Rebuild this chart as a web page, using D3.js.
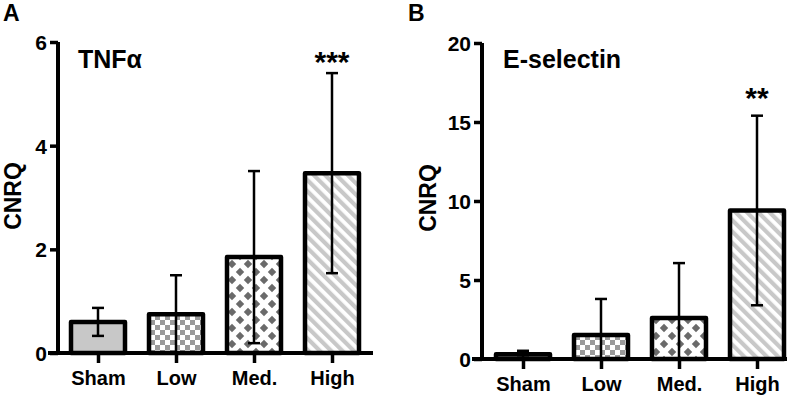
<!DOCTYPE html>
<html><head><meta charset="utf-8">
<script src="https://cdn.jsdelivr.net/npm/d3@7"></script>
<style>body{margin:0;background:#fff}svg{display:block}text{font-family:"Liberation Sans",Arial,sans-serif;font-weight:bold;fill:#000}</style>
</head><body><svg id="c" width="800" height="400"></svg>
<script>
const categories = ["Sham", "Low", "Med.", "High"];
const tnfValues = [0.6, 0.75, 1.85, 3.47];
const tnfErrors = [0.27, 0.75, 1.66, 1.93];
const tnfTicks = [0, 2, 4, 6];
const eselValues = [0.3, 1.52, 2.6, 9.4];
const eselErrors = [0.22, 2.28, 3.47, 6.0];
const eselTicks = [0, 5, 10, 15, 20];
const patterns = ["solid", "checker", "diamond", "stripe"];

const svg = d3.select("#c");
const defs = svg.append("defs");
const pc = defs.append("pattern").attr("id","checker").attr("patternUnits","userSpaceOnUse").attr("width",10).attr("height",10);
pc.append("rect").attr("width",10).attr("height",10).attr("fill","#fff");
pc.append("rect").attr("width",5).attr("height",5).attr("fill","#9a9a9a");
pc.append("rect").attr("x",5).attr("y",5).attr("width",5).attr("height",5).attr("fill","#9a9a9a");
const pd = defs.append("pattern").attr("id","diamond").attr("patternUnits","userSpaceOnUse").attr("width",16).attr("height",16);
pd.append("rect").attr("width",16).attr("height",16).attr("fill","#fff");
const h = 4.2;
const dia = (cx,cy)=>`M${cx},${cy-h}L${cx+h},${cy}L${cx},${cy+h}L${cx-h},${cy}Z`;
pd.append("path").attr("d",[dia(8,8),dia(0,0),dia(16,0),dia(0,16),dia(16,16)].join(" ")).attr("fill","#6a6a6a");
const ps = defs.append("pattern").attr("id","stripe").attr("patternUnits","userSpaceOnUse").attr("width",8).attr("height",8).attr("patternTransform","rotate(-45)");
ps.append("rect").attr("width",8).attr("height",8).attr("fill","#fff");
ps.append("rect").attr("width",4.2).attr("height",8).attr("fill","#c8c8c8");

function fillFor(p){ return p==="solid" ? "#c8c8c8" : "url(#"+p+")"; }

function panel(cfg){
  const g = svg.append("g");
  const y = d3.scaleLinear().domain([0, cfg.ticks[cfg.ticks.length-1]]).range([cfg.y0, cfg.yTop]);
  const x = d3.scalePoint().domain(categories).range([cfg.xFirst, cfg.xFirst + 3*78]);
  const bw = 54;
  g.selectAll("rect.bar").data(cfg.values).join("rect")
    .attr("x",(d,i)=>x(categories[i])-bw/2).attr("y",d=>y(d))
    .attr("width",bw).attr("height",d=>cfg.y0-y(d))
    .attr("fill",(d,i)=>fillFor(patterns[i])).attr("stroke","#000").attr("stroke-width",4.5).attr("stroke-linejoin","round");
  cfg.values.forEach((v,i)=>{
    const cx = x(categories[i]);
    const hi = v + cfg.errors[i];
    const lo = Math.max(0, v - cfg.errors[i]);
    g.append("line").attr("x1",cx).attr("x2",cx).attr("y1",y(hi)).attr("y2",y(lo)).attr("stroke","#000").attr("stroke-width",2.5);
    g.append("line").attr("x1",cx-6).attr("x2",cx+6).attr("y1",y(hi)).attr("y2",y(hi)).attr("stroke","#000").attr("stroke-width",2.5);
    if(lo>0) g.append("line").attr("x1",cx-6).attr("x2",cx+6).attr("y1",y(lo)).attr("y2",y(lo)).attr("stroke","#000").attr("stroke-width",2.5);
  });
  const ya = g.append("g").attr("transform",`translate(${cfg.axisX},0)`)
    .call(d3.axisLeft(y).tickValues(cfg.ticks).tickFormat(d3.format("d")).tickSize(8).tickPadding(3));
  ya.select(".domain").attr("stroke","#000").attr("stroke-width",4).attr("d",`M0,${cfg.yTop}V${cfg.y0}`);
  ya.selectAll(".tick line").attr("stroke","#000").attr("stroke-width",3.5);
  ya.selectAll(".tick text").attr("fill","#000").style("font-size","21px").attr("dy","0.36em");
  const xa = g.append("g").attr("transform",`translate(0,${cfg.y0})`)
    .call(d3.axisBottom(x).tickSize(10).tickPadding(8));
  xa.select(".domain").attr("stroke","#000").attr("stroke-width",4).attr("d",`M${cfg.axisX-10},0H${cfg.xEnd}`);
  xa.selectAll(".tick line").attr("stroke","#000").attr("stroke-width",3.5);
  xa.selectAll(".tick text").attr("fill","#000").style("font-size","20px");
  g.append("text").attr("transform",`translate(${cfg.ylabX},${cfg.ylabY}) rotate(-90)`).attr("text-anchor","middle").style("font-size","23px").text("CNRQ");
  g.append("text").attr("x",cfg.letterX).attr("y",21).style("font-size","23px").text(cfg.letter);
  g.append("text").attr("x",cfg.titleX).attr("y",cfg.titleY).style("font-size",cfg.titleSize).text(cfg.title);
  g.append("text").attr("x",x(categories[3])).attr("y",cfg.starY).attr("text-anchor","middle").style("font-size","30px").text(cfg.stars);
}

panel({values:tnfValues, errors:tnfErrors, ticks:tnfTicks, y0:353, yTop:42, xFirst:98, axisX:58, xEnd:373,
  ylabX:21, ylabY:196, letter:"A", letterX:3, title:"TNFα", titleX:78, titleY:68, titleSize:"25px", stars:"***", starY:72});
panel({values:eselValues, errors:eselErrors, ticks:eselTicks, y0:359, yTop:43, xFirst:523, axisX:482, xEnd:787,
  ylabX:436, ylabY:198, letter:"B", letterX:408, title:"E-selectin", titleX:503, titleY:68, titleSize:"25px", stars:"**", starY:108});
</script></body></html>
